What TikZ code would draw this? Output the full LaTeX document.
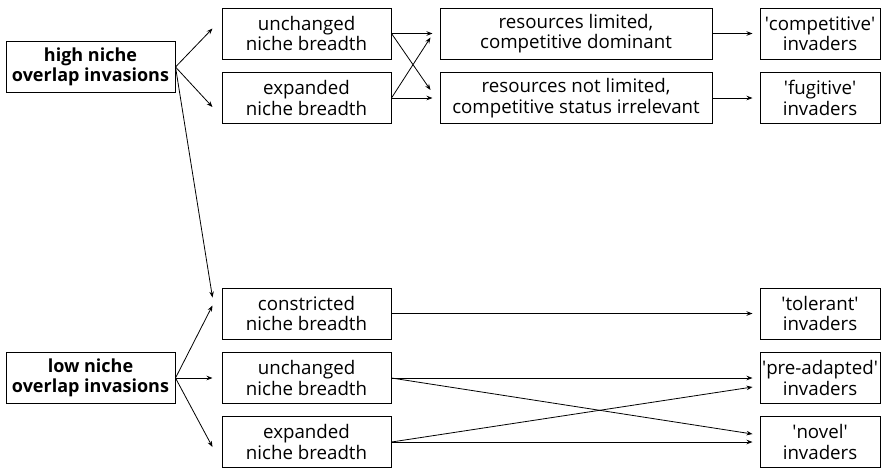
\documentclass[tikz,border=0pt]{standalone}
\usepackage{fontspec}
\setmainfont{Open Sans}
\usetikzlibrary{arrows.meta}

\newcommand{\q}{\textquotesingle}

\begin{document}
\begin{tikzpicture}[x=1pt,y=-1pt]
      \useasboundingbox (0,0) rectangle (882,467);
      \begin{scope}[every node/.style={draw,line width=1pt,align=center,inner sep=0pt,minimum height=51pt,minimum width=169pt,font=\fontsize{18.7}{20.5}\selectfont}]
        % left column
        \node[font=\bfseries\fontsize{18}{20}\selectfont] (high) at (90.5,67) {high niche\\overlap invasions};
        \node[font=\bfseries\fontsize{18}{20}\selectfont] (low) at (90.5,378) {low niche\\overlap invasions};
        % niche breadth
        \node (unchT) at (306.5,33.5) {unchanged\\niche breadth};
        \node (expT) at (306.5,98) {expanded\\niche breadth};
        \node (constr) at (306.5,313.5) {constricted\\niche breadth};
        \node (unchB) at (306.5,378) {unchanged\\niche breadth};
        \node (expB) at (306.5,442) {expanded\\niche breadth};
        % resources
        \node[minimum width=272pt] (resL) at (576,33.5) {resources limited,\\competitive dominant};
        \node[minimum width=272pt] (resN) at (576,98) {resources not limited,\\competitive status irrelevant};
        % invaders
        \node[minimum width=120pt] (comp) at (820,33.5) {\q competitive\q\\invaders};
        \node[minimum width=120pt] (fug) at (820,98) {\q fugitive\q\\invaders};
        \node[minimum width=120pt] (tol) at (820,313.5) {\q tolerant\q\\invaders};
        \node[minimum width=120pt] (pre) at (820,378) {\q pre-adapted\q\\invaders};
        \node[minimum width=120pt] (nov) at (820,442) {\q novel\q\\invaders};
      \end{scope}
      \begin{scope}[every edge/.style={draw,line width=0.8pt,-{Stealth[length=6pt,width=4.5pt]}}]
        \path (high.east) edge ([xshift=-9pt,yshift=5pt]unchT.west);
        \path (high.east) edge ([xshift=-9pt,yshift=-9pt]expT.west);
        \path (high.east) edge ([xshift=-9pt,yshift=16pt]constr.west);
        \path (low.east) edge ([xshift=-9pt,yshift=8pt]constr.west);
        \path (low.east) edge ([xshift=-9pt]unchB.west);
        \path (low.east) edge ([xshift=-9pt,yshift=-5pt]expB.west);
        \path (unchT.east) edge ([xshift=-7pt]resL.west);
        \path (unchT.east) edge ([xshift=-9pt,yshift=8pt]resN.west);
        \path (expT.east) edge ([xshift=-7pt]resN.west);
        \path (expT.east) edge ([xshift=-9pt,yshift=-4pt]resL.west);
        \path (resL.east) edge ([xshift=-7pt]comp.west);
        \path (resN.east) edge ([xshift=-7pt]fug.west);
        \path (constr.east) edge ([xshift=-7pt]tol.west);
        \path (unchB.east) edge ([xshift=-7pt]pre.west);
        \path (unchB.east) edge ([xshift=-7pt,yshift=8pt]nov.west);
        \path (expB.east) edge ([xshift=-7pt]nov.west);
        \path (expB.east) edge ([xshift=-7pt,yshift=-9pt]pre.west);
      \end{scope}
    \end{tikzpicture}
\end{document}
